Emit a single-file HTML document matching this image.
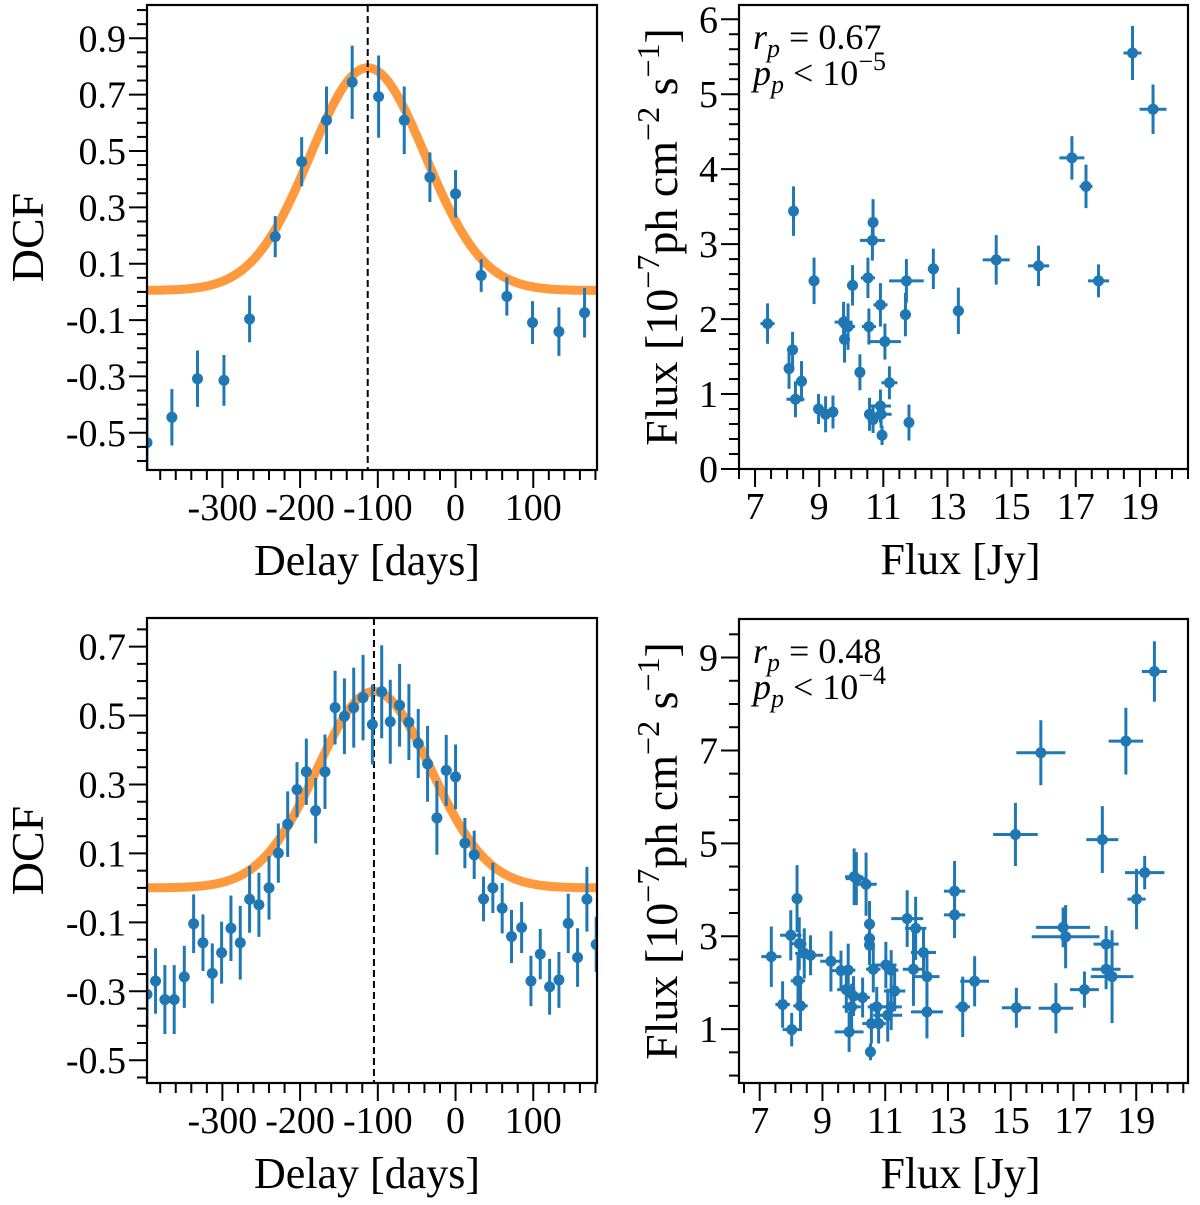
<!DOCTYPE html>
<html><head><meta charset="utf-8"><style>
html,body{margin:0;padding:0;background:#fff;}
svg{display:block;font-family:"Liberation Serif","DejaVu Serif",serif;}
</style></head><body>
<svg id="fig" width="1200" height="1205" viewBox="0 0 1200 1205" xmlns="http://www.w3.org/2000/svg"></svg>
<script>
// ---------- DATA ----------
const dcf1Lag = [-397,-365,-332,-298,-265,-232,-198,-166,-133,-99,-66,-33,0,33,66,99,133,166];
const dcf1Val = [-0.535,-0.445,-0.308,-0.314,-0.096,0.196,0.462,0.609,0.744,0.693,0.609,0.407,0.348,0.058,-0.016,-0.109,-0.141,-0.074];
const dcf1Err = [0.12,0.10,0.10,0.09,0.083,0.073,0.087,0.12,0.13,0.146,0.12,0.088,0.084,0.058,0.068,0.076,0.086,0.088];
const fit1 = [0.79,-113,74,0.005];
const peak1 = [-113];
const dcf2Lag = [-397,-386,-374,-362,-349,-337,-325,-313,-301,-289,-277,-265,-253,-240,-228,-216,-204,-192,-180,-168,-155,-143,-131,-119,-107,-95,-84,-72,-60,-48,-36,-24,-12,0,12,24,36,48,60,72,85,97,109,121,133,145,157,169,181];
const dcf2Val = [-0.309,-0.27,-0.324,-0.324,-0.258,-0.104,-0.159,-0.248,-0.188,-0.117,-0.159,-0.033,-0.049,0.0,0.101,0.185,0.285,0.337,0.224,0.337,0.523,0.498,0.523,0.552,0.474,0.569,0.482,0.53,0.481,0.419,0.36,0.203,0.341,0.322,0.13,0.096,-0.032,0.0,-0.059,-0.141,-0.115,-0.27,-0.192,-0.287,-0.267,-0.103,-0.202,-0.033,-0.164];
const dcf2Err = [0.1,0.095,0.1,0.1,0.09,0.085,0.082,0.087,0.09,0.095,0.107,0.097,0.093,0.092,0.086,0.095,0.08,0.096,0.095,0.108,0.107,0.11,0.116,0.124,0.116,0.135,0.122,0.12,0.11,0.1,0.11,0.107,0.103,0.094,0.073,0.07,0.065,0.073,0.073,0.077,0.074,0.073,0.073,0.081,0.081,0.086,0.085,0.094,0.08];
const fit2 = [0.57,-105,73,0.0];
const peak2 = [-105];
const sc1X = [7.39,8.2,8.06,8.17,8.45,8.26,8.84,8.98,9.2,9.43,9.76,9.79,9.9,10.04,10.27,10.52,10.55,10.57,10.66,10.68,10.68,10.91,10.91,10.93,10.96,11.05,11.19,11.69,11.72,11.8,12.56,13.34,14.52,15.84,16.88,17.32,17.71,18.77,19.41];
const sc1Y = [1.94,3.44,1.34,1.59,1.17,0.93,2.51,0.80,0.73,0.76,1.96,1.73,1.90,2.45,1.29,2.55,1.90,0.73,3.05,3.29,0.66,0.84,2.19,0.73,0.45,1.70,1.15,2.06,2.51,0.62,2.67,2.11,2.79,2.71,4.15,3.77,2.51,5.55,4.80];
const sc1Xe = [0.22,0.15,0.13,0.17,0.17,0.28,0.17,0.13,0.13,0.13,0.28,0.13,0.22,0.17,0.17,0.22,0.22,0.17,0.39,0.11,0.17,0.33,0.22,0.33,0.13,0.5,0.25,0.17,0.54,0.13,0.17,0.17,0.42,0.33,0.39,0.2,0.33,0.28,0.42];
const sc1Ye = [0.27,0.33,0.27,0.24,0.27,0.24,0.31,0.2,0.24,0.22,0.27,0.31,0.31,0.27,0.24,0.27,0.24,0.22,0.27,0.31,0.18,0.22,0.29,0.18,0.13,0.24,0.22,0.29,0.29,0.24,0.27,0.31,0.33,0.27,0.29,0.29,0.22,0.36,0.33];
const sc2X = [7.37,7.73,7.99,8.02,8.19,8.22,8.30,8.26,8.42,8.62,9.27,9.59,9.82,9.76,9.85,9.93,9.99,10.01,10.08,10.28,10.39,10.50,10.50,10.50,10.53,10.62,10.56,10.73,10.79,11.02,11.08,11.19,11.30,11.19,11.70,11.90,11.97,12.22,12.33,12.33,13.21,13.21,13.47,13.85,15.15,15.18,15.96,16.44,16.67,16.75,17.35,18.04,18.04,18.23,17.92,18.67,19.01,19.27,19.58];
const sc2Y = [2.56,1.53,3.02,0.99,3.81,2.04,1.50,2.84,2.63,2.59,2.46,2.26,2.27,1.85,0.94,1.48,1.71,4.28,4.24,1.68,4.12,3.26,2.95,2.81,0.51,2.29,1.12,1.48,1.12,2.38,1.30,1.48,1.82,2.27,3.38,2.29,3.17,2.65,2.13,1.37,3.97,3.46,1.48,2.03,5.19,1.46,6.95,1.45,3.19,2.99,1.85,2.83,2.29,2.13,5.08,7.20,3.80,4.37,8.70];
const sc2Xe = [0.32,0.23,0.34,0.29,0.17,0.23,0.23,0.23,0.29,0.4,0.34,0.29,0.23,0.29,0.46,0.29,0.23,0.29,0.34,0.23,0.34,0.17,0.17,0.17,0.17,0.23,0.29,0.29,0.23,0.34,0.46,0.34,0.34,0.23,0.51,0.34,0.34,0.4,0.4,0.51,0.34,0.34,0.23,0.46,0.71,0.46,0.78,0.55,0.86,1.08,0.46,0.4,0.46,0.68,0.51,0.55,0.29,0.63,0.4];
const sc2Ye = [0.65,0.5,0.54,0.36,0.72,0.57,0.54,0.57,0.54,0.43,0.65,0.43,0.57,0.5,0.43,0.5,0.43,0.61,0.57,0.43,0.68,0.5,0.43,0.43,0.18,0.5,0.43,0.43,0.43,0.5,0.57,0.5,0.43,0.43,0.61,0.79,0.68,0.5,0.47,0.57,0.65,0.5,0.65,0.54,0.68,0.43,0.7,0.54,0.43,0.68,0.39,0.39,0.43,1.0,0.72,0.72,0.65,0.36,0.65];
const dcfXTicks = [-300,-200,-100,0,100];
const dcf1YTicks = [0.9,0.7,0.5,0.3,0.1,-0.1,-0.3,-0.5];
const dcf2YTicks = [0.7,0.5,0.3,0.1,-0.1,-0.3,-0.5];
const fluxXTicks = [7,9,11,13,15,17,19];
const sc1YTicks = [0,1,2,3,4,5,6];
const sc2YTicks = [1,3,5,7,9];

// ---------- DRAW ----------
const NS = "http://www.w3.org/2000/svg";
const svg = document.getElementById('fig');
const BLUE = "#1f77b4";
function mk(tag, attrs, parent){
  const e = document.createElementNS(NS, tag);
  for (const k in attrs) e.setAttribute(k, attrs[k]);
  (parent||svg).appendChild(e);
  return e;
}
function panel(name, box, xd, yd, idx){
  const g = mk('g', {});
  
  
  const sx = v => box.x0 + (v - xd[0]) / (xd[1] - xd[0]) * (box.x1 - box.x0);
  const sy = v => box.y1 - (v - yd[0]) / (yd[1] - yd[0]) * (box.y1 - box.y0);
  const cp = mk('clipPath', {id:'clip'+idx}, g);
  mk('rect', {x:box.x0, y:box.y0, width:box.x1-box.x0, height:box.y1-box.y0}, cp);
  const plot = mk('g', {'clip-path':'url(#clip'+idx+')'}, g);
  return {g, sx, sy, plot, box};
}
function axes(P, xMajor, xMinorStep, yMajor, yMinorStep, xd, yd, xLabels, yLabels, xfmt, yfmt){
  const {g, sx, sy, box} = P;
  const tg = mk('g', {stroke:'#000','stroke-width':2}, g);
  
  
  const isMaj = (v, arr) => arr.some(m => Math.abs(m - v) < 1e-6);
  for (let v = Math.ceil(xd[0]/xMinorStep)*xMinorStep; v <= xd[1]+1e-9; v += xMinorStep){
    const vv = Math.round(v*1000)/1000;
    const L = isMaj(vv, xMajor) ? 18 : 10;
    mk('line', {x1:sx(vv), x2:sx(vv), y1:box.y1, y2:box.y1+L}, tg);
  }
  for (let v = Math.ceil(yd[0]/yMinorStep)*yMinorStep; v <= yd[1]+1e-9; v += yMinorStep){
    const vv = Math.round(v*1000)/1000;
    const L = isMaj(vv, yMajor) ? 18 : 10;
    mk('line', {x1:box.x0, x2:box.x0-L, y1:sy(vv), y2:sy(vv)}, tg);
  }
  xLabels.forEach(v => {
    const t = mk('text', {x:sx(v), y:box.y1+50, 'text-anchor':'middle','font-size':38}, g);
    
    
    t.textContent = xfmt(v);
  });
  yLabels.forEach(v => {
    const t = mk('text', {x:box.x0-21, y:sy(v)+13, 'text-anchor':'end','font-size':38}, g);
    
    
    t.textContent = yfmt(v);
  });
  const fr = mk('rect', {x:box.x0, y:box.y0, width:box.x1-box.x0, height:box.y1-box.y0, fill:'none', stroke:'#000','stroke-width':2.2}, g);
  
  
}
function dcfPanel(name, idx, box, xd, yd, lag, val, err, fit, peak, yTicks){
  const P = panel(name, box, xd, yd, idx);
  const {sx, sy, plot} = P;
  let d = '';
  for (let i = 0; i <= 300; i++){
    const x = xd[0] + (xd[1]-xd[0])*i/300;
    const y = fit[0]*Math.exp(-Math.pow(x-fit[1],2)/(2*fit[2]*fit[2])) + fit[3];
    d += (i ? 'L' : 'M') + sx(x).toFixed(1) + ' ' + sy(y).toFixed(1);
  }
  const fl = mk('path', {d, fill:'none', stroke:'#ff7f0e','stroke-opacity':0.8,'stroke-width':9}, plot);
  
  
  const pl = mk('line', {x1:sx(peak[0]), x2:sx(peak[0]), y1:box.y0, y2:box.y1, stroke:'#000','stroke-width':2,'stroke-dasharray':'7 4'}, plot);
  
  
  lag.forEach((x, i) => {
    const pg = mk('g', {}, plot);
    
    
    mk('line', {x1:sx(x), x2:sx(x), y1:sy(val[i]-err[i]), y2:sy(val[i]+err[i]), stroke:BLUE,'stroke-width':3}, pg);
    mk('circle', {cx:sx(x), cy:sy(val[i]), r:5.5, fill:BLUE}, pg);
  });
  axes(P, dcfXTicks, 20, yTicks, 0.05, xd, yd, dcfXTicks, yTicks, v => String(v), v => v.toFixed(1));
  const xl = mk('text', {x:(box.x0+box.x1)/2-5, y:box.y1+105, 'text-anchor':'middle','font-size':44}, P.g);
  
  
  xl.textContent = 'Delay [days]';
  const cy = (box.y0+box.y1)/2;
  const yl = mk('text', {x:0, y:0, 'text-anchor':'middle','font-size':46, transform:`translate(43 ${cy}) rotate(-90)`}, P.g);
  
  
  yl.textContent = 'DCF';
}
function scPanel(name, idx, box, xd, yd, X, Y, Xe, Ye, yTicks, yMinor, rtxt, pexp){
  const P = panel(name, box, xd, yd, idx);
  const {sx, sy, plot} = P;
  X.forEach((x, i) => {
    const pg = mk('g', {stroke:BLUE,'stroke-width':3}, plot);
    
    
    mk('line', {x1:sx(x-Xe[i]), x2:sx(x+Xe[i]), y1:sy(Y[i]), y2:sy(Y[i])}, pg);
    mk('line', {x1:sx(x), x2:sx(x), y1:sy(Y[i]-Ye[i]), y2:sy(Y[i]+Ye[i])}, pg);
    mk('circle', {cx:sx(x), cy:sy(Y[i]), r:5.5, fill:BLUE, stroke:'none'}, pg);
  });
  axes(P, fluxXTicks, 0.5, yTicks, yMinor, xd, yd, fluxXTicks, yTicks, v => String(v), v => String(v));
  const xl = mk('text', {x:(box.x0+box.x1)/2-3, y:box.y1+105, 'text-anchor':'middle','font-size':44}, P.g);
  
  
  xl.textContent = 'Flux [Jy]';
  const cy = (box.y0+box.y1)/2;
  const yl = mk('text', {x:0, y:0, 'text-anchor':'middle','font-size':46, transform:`translate(677 ${cy}) rotate(-90)`}, P.g);
  
  
  yl.innerHTML = 'Flux [10<tspan dy="-18" font-size="32">−7</tspan><tspan dy="18">ph cm</tspan><tspan dy="-18" font-size="32">−2</tspan><tspan dy="18"> s</tspan><tspan dy="-18" font-size="32">−1</tspan><tspan dy="18">]</tspan>';
  const a1 = mk('text', {x:box.x0+14, y:box.y0+44, 'font-size':36}, P.g);
  
  
  a1.innerHTML = '<tspan font-style="italic">r</tspan><tspan font-style="italic" font-size="26" dy="8">p</tspan><tspan dy="-8"> = ' + rtxt + '</tspan>';
  const a2 = mk('text', {x:box.x0+14, y:box.y0+80, 'font-size':36}, P.g);
  
  
  a2.innerHTML = '<tspan font-style="italic">p</tspan><tspan font-style="italic" font-size="26" dy="8">p</tspan><tspan dy="-8"> &lt; 10</tspan><tspan font-size="26" dy="-15">−' + pexp + '</tspan>';
}

dcfPanel('dcf-panel-top', 1, {x0:147,x1:597,y0:5,y1:470}, [-397,182], [-0.632,1.018], dcf1Lag, dcf1Val, dcf1Err, fit1, peak1, dcf1YTicks);
dcfPanel('dcf-panel-bottom', 2, {x0:147,x1:597,y0:618,y1:1083}, [-397,182], [-0.566,0.783], dcf2Lag, dcf2Val, dcf2Err, fit2, peak2, dcf2YTicks);
scPanel('flux-scatter-top', 3, {x0:739,x1:1188,y0:5,y1:469}, [6.5,20.5], [0,6.19], sc1X, sc1Y, sc1Xe, sc1Ye, sc1YTicks, 0.2, '0.67', '5');
scPanel('flux-scatter-bottom', 4, {x0:739,x1:1188,y0:619,y1:1083}, [6.34,20.65], [-0.16,9.83], sc2X, sc2Y, sc2Xe, sc2Ye, sc2YTicks, 0.5, '0.48', '4');
</script>
</body></html>
